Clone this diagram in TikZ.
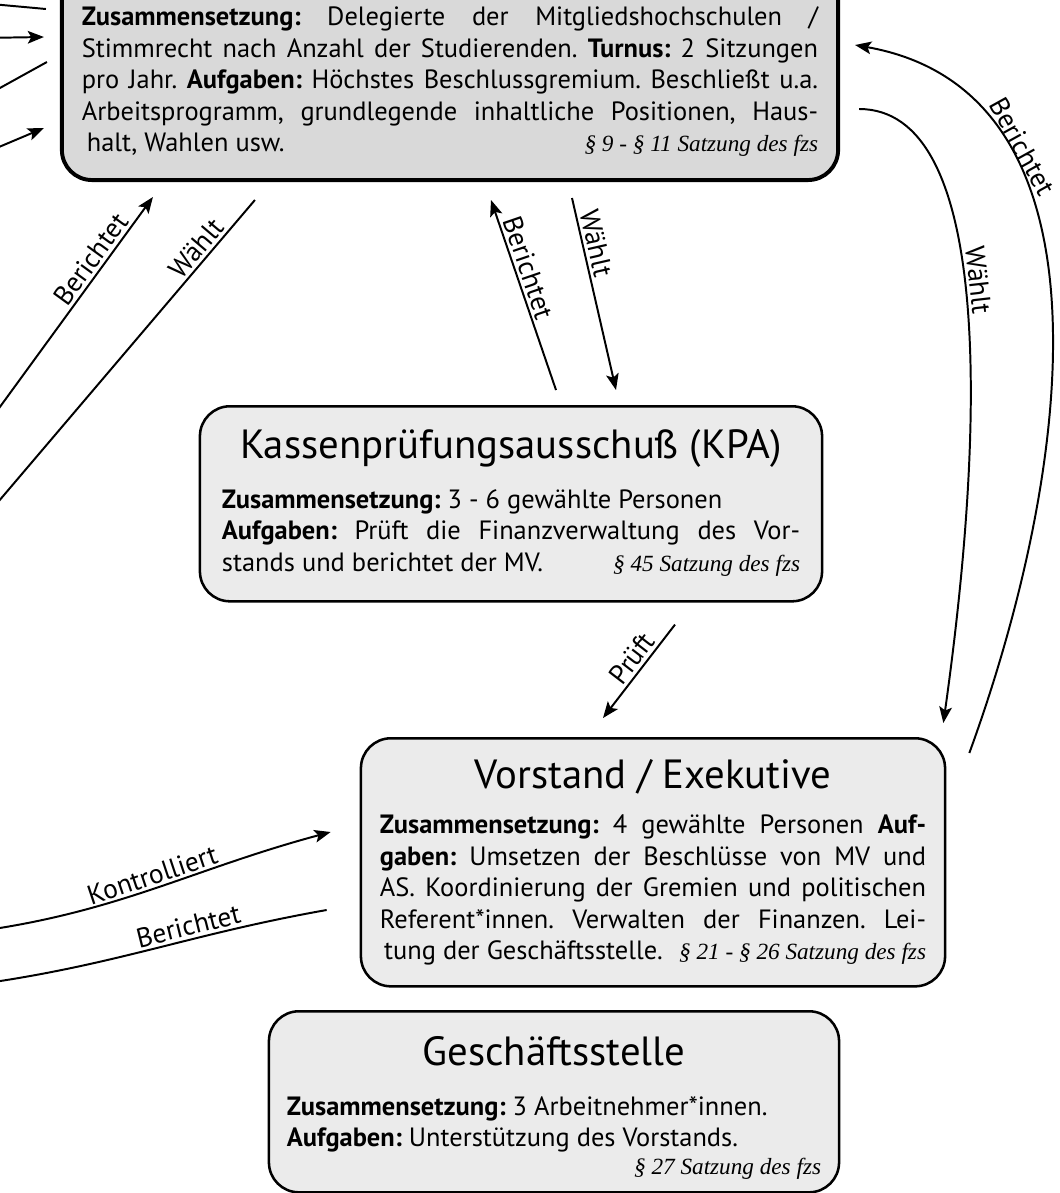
\documentclass[tikz,border=0pt]{standalone}
\usepackage{fontspec}
\setmainfont{PT Sans}
\newfontfamily\lawserif{Liberation Serif}
\usepackage{tikz}
\usetikzlibrary{calc}
\usetikzlibrary{arrows.meta}

\definecolor{mvgray}{HTML}{D9D9D9}
\definecolor{organgray}{HTML}{EBEBEB}

\newcommand{\bodyfont}{\fontsize{18.8}{22.4}\selectfont\frenchspacing}
\newcommand{\tagfont}{\fontsize{19.5}{22}\selectfont}
\newcommand{\titlefont}{\fontsize{29}{34}\selectfont}
\newcommand{\lawfont}{\lawserif\itshape\fontsize{16.5}{19.6}\selectfont}
\newcommand{\fullline}[1]{\makebox[\linewidth][s]{#1}\par}

\begin{document}
\begin{tikzpicture}[x=0.025cm, y=-0.025cm,
	organ/.style={draw=black, line width=1.8pt, fill=organgray, rounded corners=0.75cm, align=justify, inner ysep=0pt, font=\bodyfont},
	mvorgan/.style={organ, line width=2.8pt, fill=mvgray},
	link/.style={line width=1.4pt},
	linkarrow/.style={link, -{Stealth[length=11.5pt,width=9pt,inset=2.5pt]}},
	tag/.style={font=\tagfont, sloped, above, inner sep=2pt}]
	\useasboundingbox (0,0) rectangle (1060,1193);
	\clip (0,0) rectangle (1060,1193);

	\node[mvorgan, anchor=south, text width=18.4cm, inner xsep=0.5cm, text height=2.45cm, text depth=3.85cm](mvBox) at (450,182){%
		\fullline{\textbf{Zusammensetzung:} Delegierte der Mitgliedshochschulen /}
		\fullline{Stimmrecht nach Anzahl der Studierenden. \textbf{Turnus:} 2 Sitzungen}
		\fullline{pro Jahr. \textbf{Aufgaben:} Höchstes Beschlussgremium. Beschließt u.a.}
		\fullline{Arbeitsprogramm, grundlegende inhaltliche Positionen, Haus-}
		\hspace*{3.5pt}halt, Wahlen usw.\hfill{\lawfont § 9 - § 11 Satzung des fzs}};

	\node[organ, anchor=north, text width=14.45cm, inner xsep=0.55cm, text height=1.3cm, text depth=3.575cm](kpaBox) at (511,405){%
		{\centering\titlefont Kassenprüfungsausschuß (KPA)\par}\vspace{13pt}
		\textbf{Zusammensetzung:} 3 - 6 gewählte Personen\par
		\fullline{\textbf{Aufgaben:} Prüft die Finanzverwaltung des Vor-}
		stands und berichtet der MV.\hfill{\lawfont § 45 Satzung des fzs}};

	\node[organ, anchor=north, text width=13.65cm, inner xsep=0.475cm, text height=1.25cm, text depth=4.95cm](vorstandBox) at (653,737){%
		{\centering\titlefont Vorstand / Exekutive\par}\vspace{10pt}
		\fullline{\textbf{Zusammensetzung:} 4 gewählte Personen \textbf{Auf-}}
		\fullline{\textbf{gaben:} Umsetzen der Beschlüsse von MV und}
		\fullline{AS. Koordinierung der Gremien und politischen}
		\fullline{Referent*innen. Verwalten der Finanzen. Lei-}
		\hspace*{3pt}tung der Geschäftsstelle.\hfill{\lawfont § 21 - § 26 Satzung des fzs}};

	\node[organ, anchor=north, text width=13.35cm, inner xsep=0.45cm, text height=1.35cm, text depth=3.175cm](gsBox) at (554,1010){%
		{\centering\titlefont Geschäftsstelle\par}\vspace{13pt}
		\textbf{Zusammensetzung:} 3 Arbeitnehmer*innen.\par
		\textbf{Aufgaben:} Unterstützung des Vorstands.\par
		{\raggedleft\lawfont § 27 Satzung des fzs\par}};

	\coordinate (farA) at (-20,3);
	\coordinate (farB) at (-20,38);
	\coordinate (farC) at (-20,99);
	\coordinate (farD) at (-20,155);
	\coordinate (farBerichtet) at (-30,448);
	\coordinate (farWaehlt) at (-30,535);
	\coordinate (farKontrolle) at (-20,931);
	\coordinate (farBericht) at (-20,984);

	\draw[link] ($(mvBox.west |- 0,9)+(-14,0)$) -- (farA);
	\draw[linkarrow] (farB) -- ($(mvBox.west |- 0,37)+(-16,0)$);
	\draw[link] ($(mvBox.west |- 0,62)+(-13,0)$) -- (farC);
	\draw[linkarrow] (farD) -- ($(mvBox.west |- 0,128)+(-16,0)$);

	\draw[linkarrow] (farBerichtet) -- ($(mvBox.south west)+(93,15)$) node[tag, pos=0.72]{Berichtet};
	\draw[link] ($(mvBox.south west)+(195,18)$) -- (farWaehlt) node[tag, pos=0.17]{Wählt};

	\draw[linkarrow] ($(kpaBox.north)+(45,-15)$) -- ($(mvBox.south)+(41,18)$) node[tag, pos=0.62]{Berichtet};
	\draw[linkarrow] ($(mvBox.south)+(122,16)$) -- ($(kpaBox.north)+(105,-15)$) node[tag, pos=0.25]{Wählt};
	\draw[linkarrow] ($(kpaBox.south)+(164,22)$) -- ($(vorstandBox.north)+(-50,-19)$) node[tag, pos=0.45]{Prüft};

	\draw[linkarrow] (farKontrolle) to[out=8, in=195] node[tag, pos=0.5]{Kontrolliert} ($(vorstandBox.west |- 0,832)+(-29,0)$);
	\draw[link] ($(vorstandBox.west |- 0,910)+(-33,0)$) to[out=190, in=8] node[tag, pos=0.38]{Berichtet} (farBericht);

	\draw[linkarrow] ($(mvBox.east |- 0,109)+(19,0)$) to[out=0, in=82, out distance=3.2cm, in distance=8.15cm] node[tag, pos=0.48]{Wählt} ($(vorstandBox.north east)+(-3,-14)$);
	\draw[linkarrow] ($(vorstandBox.north east)+(23,16)$) to[out=70, in=-10, out distance=7.52cm, in distance=6.77cm] node[tag, pos=0.72]{Berichtet} ($(mvBox.east |- 0,45)+(15,0)$);
\end{tikzpicture}
\end{document}
